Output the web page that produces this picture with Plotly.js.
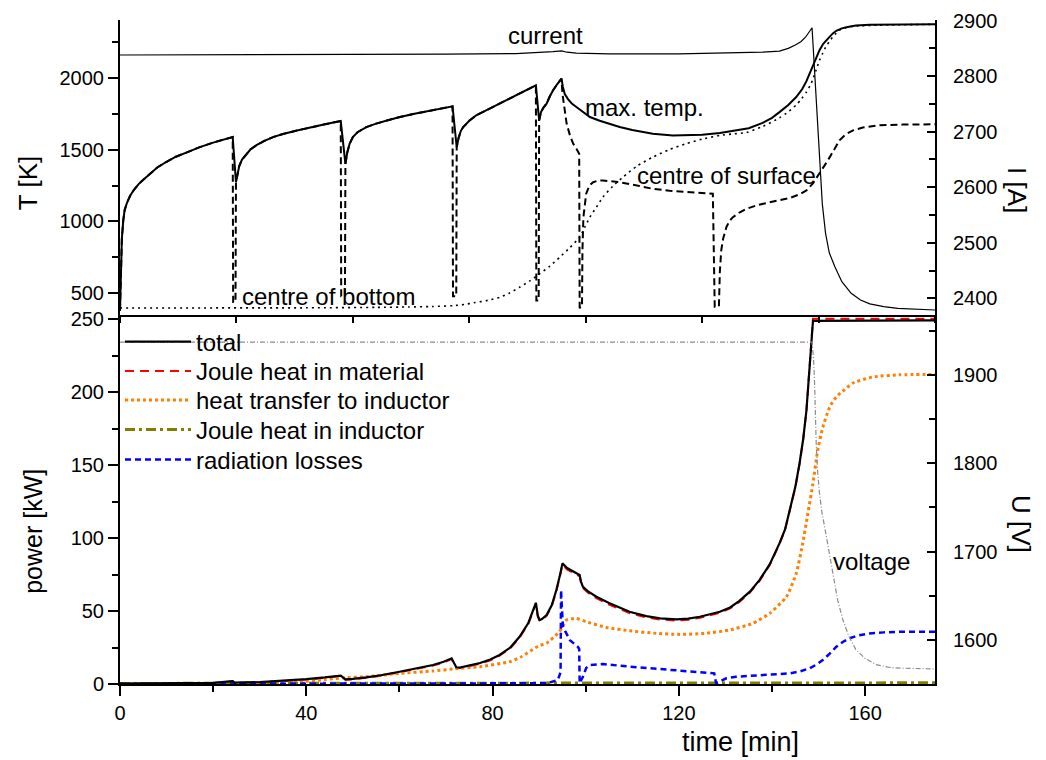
<!DOCTYPE html>
<html>
<head>
<meta charset="utf-8">
<script src="https://cdn.plot.ly/plotly-3.0.1.min.js"></script>
<style>
  html, body { margin: 0; padding: 0; background: #fff; }
  #chart { width: 1046px; height: 760px; }
</style>
</head>
<body>
<div id="chart"></div>
<script>
// ---- upper panel: temperatures [K] and coil current [A] versus time [min] ----
const tMax = [0, 0.2, 0.4, 0.7, 1.0, 1.5, 2.2, 3, 4, 5, 6.5, 8, 10, 12, 14.5, 17, 20, 22, 24.2,
  24.9, 25.2, 25.6, 26.2, 27, 28, 29.3, 31, 33, 35, 38, 41, 44, 47.4,
  48.4, 48.8, 49.3, 50, 51, 52.9, 55, 57.5, 60.1, 63.5, 67.2, 71.4,
  72.3, 72.7, 73.2, 73.7, 75, 76.5, 78.5, 81.5, 83.5, 85.8, 87.5, 89.3,
  90.0, 90.4, 90.9, 91.6, 92.3, 93, 93.9, 94.8,
  95.1, 95.5, 96.2, 97, 98, 99.5, 100.9, 103, 105, 107.3, 110, 114.4, 118.7, 122, 125, 128.8, 132, 135, 138, 140, 141.6,
  143.5, 145.2, 146.5, 147.4, 148.2, 148.8, 149.5, 150.2, 151, 152, 153, 153.8, 155, 156, 158, 161, 165, 175];
const TMax = [380, 600, 880, 1007, 1080, 1130, 1180, 1220, 1260, 1290, 1335, 1375, 1415, 1450, 1482, 1515, 1548, 1567, 1587,
  1273, 1330, 1385, 1430, 1465, 1500, 1530, 1560, 1588, 1608, 1632, 1655, 1675, 1698,
  1401, 1480, 1540, 1587, 1620, 1656, 1680, 1703, 1726, 1750, 1772, 1800,
  1517, 1580, 1630, 1656, 1700, 1738, 1770, 1819, 1850, 1889, 1915, 1946,
  1703, 1760, 1790, 1819, 1870, 1912, 1955, 1993,
  1935, 1885, 1850, 1820, 1795, 1760, 1726, 1700, 1680, 1656, 1635, 1610, 1598, 1598, 1603, 1615, 1630, 1648, 1685, 1720, 1760,
  1810, 1865, 1920, 1975, 2040, 2090, 2145, 2190, 2235, 2270, 2305, 2325, 2342, 2350, 2362, 2367, 2369, 2371];

const tSurf = [0, 0.2, 0.4, 0.7, 1.0, 1.5, 2.2, 3, 4, 5, 6.5, 8, 10, 12, 14.5, 17, 20, 22, 24.2, 24.3, 24.8,
  24.9, 25.2, 25.6, 26.2, 27, 28, 29.3, 31, 33, 35, 38, 41, 44, 47.4, 47.5, 48.3,
  48.4, 48.8, 49.3, 50, 51, 52.9, 55, 57.5, 60.1, 63.5, 67.2, 71.4, 71.5, 72.2,
  72.3, 72.7, 73.2, 73.7, 75, 76.5, 78.5, 81.5, 83.5, 85.8, 87.5, 89.3, 89.4, 89.9,
  90.0, 90.4, 90.9, 91.6, 92.3, 93, 93.9, 94.8,
  95.0, 95.5, 95.9, 96.6, 97.3, 98.0, 98.6, 98.7, 99.2,
  99.3, 99.5, 100.1, 100.8, 101.6, 102.5, 103.7, 105.5, 107.3, 111, 114.4, 118, 121.6, 124.5, 127.3, 127.7, 128.6,
  128.8, 129.1, 129.5, 130.2, 130.9, 131.6, 133, 134.5, 137, 139.5, 141.6, 144, 146, 147.4, 148.8, 150.2, 151.3,
  152.4, 153.5, 154.5, 155.8, 157.4, 159.5, 163.1, 168, 175];
const TSurf = [380, 600, 880, 1007, 1080, 1130, 1180, 1220, 1260, 1290, 1335, 1375, 1415, 1450, 1482, 1515, 1548, 1567, 1587, 440, 440,
  1273, 1330, 1385, 1430, 1465, 1500, 1530, 1560, 1588, 1608, 1632, 1655, 1675, 1698, 480, 480,
  1401, 1480, 1540, 1587, 1620, 1656, 1680, 1703, 1726, 1750, 1772, 1800, 480, 480,
  1517, 1580, 1630, 1656, 1700, 1738, 1770, 1819, 1850, 1889, 1915, 1946, 450, 450,
  1703, 1760, 1790, 1819, 1870, 1912, 1955, 1993,
  1889, 1760, 1680, 1600, 1541, 1505, 1471, 403, 403,
  800, 1030, 1193, 1250, 1273, 1283, 1285, 1281, 1273, 1250, 1227, 1213, 1204, 1198, 1193, 408, 408,
  650, 800, 880, 960, 1005, 1030, 1062, 1088, 1115, 1133, 1146, 1165, 1190, 1216, 1265, 1332, 1390,
  1447, 1510, 1564, 1605, 1633, 1653, 1668, 1673, 1675];

const tBot = [0, 40, 55, 62, 67, 71.5, 74, 76, 79, 81.5, 83.5, 85.8, 88, 90.1, 92.3, 94.4, 96.5, 98.7, 99.8, 100.9, 102.3, 103.7,
  105.8, 108, 111, 114.4, 118, 121.6, 125, 128.8, 131.5, 134.5, 138, 141.6, 143.5, 145.2, 146.4, 147.4, 148.2, 148.8, 149.5,
  150.2, 150.9, 151.5, 152.3, 153, 153.8, 154.5, 155.7, 157, 159, 163, 175];
const TBot = [399, 400, 403, 406, 409, 415, 424, 435, 452, 473, 500, 543, 587, 636, 690, 751, 815, 891, 960, 1030, 1100, 1169,
  1245, 1308, 1385, 1447, 1500, 1541, 1572, 1598, 1608, 1618, 1660, 1720, 1762, 1810, 1855, 1900, 1945, 1990, 2055,
  2120, 2170, 2210, 2250, 2280, 2308, 2329, 2345, 2355, 2360, 2364, 2370];

const tCur = [0, 40, 70, 85, 90, 93, 94.8, 96, 98, 105, 120, 132, 138, 141.6, 143.5, 145, 146.2, 147.2, 148.1, 148.6,
  149.0, 149.5, 149.9, 150.2, 150.8, 151.5, 152.3, 153.5, 155, 157, 159, 161, 164, 167, 175];
const ICur = [2838, 2838.5, 2839.5, 2840.5, 2842, 2844, 2845.5, 2843, 2841.5, 2840, 2840, 2841.5, 2843, 2845, 2850, 2856, 2862, 2870, 2880, 2887,
  2830, 2757, 2690, 2637, 2570, 2517, 2482, 2457, 2430, 2409, 2397, 2390, 2385, 2382, 2379];

// ---- lower panel: power balance [kW] and voltage [V] ----
const tTot = [0, 10, 20, 24.2, 24.6, 30, 35, 40, 44, 47.4, 48.4, 50, 52.9, 56, 60, 64, 67.2, 69.5, 71.2, 72.2, 73, 74.4, 77.3,
  79.5, 81.5, 83.8, 85.8, 87.7, 89.3, 89.7, 90.1, 90.6, 91.6, 92.7, 93.7, 94.5, 95, 96, 97.5, 98.7, 99.0, 99.4, 100.5, 102.3,
  105, 109.4, 113, 116, 119.5, 122, 124.5, 128.8, 131, 133, 135.3, 137.3, 139.5, 141.6, 142.8, 143.8, 145, 145.9, 146.7,
  147.4, 147.9, 148.4, 148.8, 175];
const PTot = [0.3, 0.5, 0.8, 2.0, 0.9, 1.3, 2.1, 3.3, 4.5, 5.8, 3.2, 3.5, 4.6, 6.0, 8.4, 10.8, 13.0, 15.2, 17.6, 11.5, 11.3, 12.3, 14.4,
  16.8, 19.9, 25.0, 32.4, 42.0, 55.7, 47.0, 43.8, 44.5, 47.3, 54.0, 64.4, 75.0, 82.7, 79.5, 77.0, 74.7, 70.0, 66.6, 63.5, 59.8,
  55.5, 49.5, 46.5, 45.0, 44.3, 44.8, 46.1, 49.5, 52.5, 57.0, 63.5, 71.2, 82.0, 96.4, 106, 119, 135, 151, 168,
  187.7, 210, 233, 249, 249.3];
const PJouleMat = [0.2, 0.4, 0.7, 1.8, 0.7, 1.1, 1.9, 3.0, 4.2, 5.5, 2.9, 3.2, 4.3, 5.6, 8.0, 10.4, 12.6, 14.8, 17.1, 11.1, 10.9, 11.9, 13.9,
  16.3, 19.4, 24.4, 31.8, 41.4, 55.0, 46.4, 43.2, 43.9, 46.7, 53.3, 63.7, 74.2, 81.8, 78.6, 76.1, 73.8, 69.2, 65.8, 62.6, 58.8,
  54.5, 48.6, 45.6, 44.2, 43.5, 44.0, 45.4, 48.8, 51.8, 56.3, 62.9, 70.6, 81.5, 95.9, 105.6, 118.6, 134.6, 150.6, 167.7,
  187.4, 210, 233.5, 250.5, 250.5];

const tHt = [0, 30, 35, 38.6, 44, 47.9, 52.9, 60, 67.2, 71.5, 77.3, 83.7, 86.2, 89.8, 91.6, 94, 95, 95.8, 97.9, 100.1, 104.4, 109.4, 115.2,
  120.2, 125.5, 130.9, 135.9, 139.5, 143.1, 145.2, 146.6, 147.7, 148.8, 149.8, 150.9, 152.4, 153.8, 155.6, 157.4, 161.6, 167.4, 175];
const PHt = [0, 0.2, 0.8, 1.6, 3.0, 4.3, 5.0, 7.3, 8.9, 10.3, 11.9, 15.3, 18.7, 26.0, 27.9, 34.7, 38.8, 43.8, 45.0, 42.7, 38.8, 36.5, 34.7,
  34.0, 34.7, 37.0, 41.6, 48.4, 59.8, 75.8, 96.4, 117, 137.5, 160, 176, 190, 196.8, 201.9, 206.4, 210.5, 212.0, 212.3];

const tInd = [0, 45, 90, 120, 148, 175];
const PInd = [0.4, 0.4, 0.5, 0.6, 0.8, 0.8];

const tRad = [0, 80, 91.6, 94, 94.6, 94.7, 95.1, 96.6, 98.3, 98.6, 98.7, 99.4, 100.1, 100.9, 103.7, 109.4, 116.6, 126.6, 127.6, 128.0,
  130.2, 132.3, 138.8, 143.8, 146, 148.1, 149.5, 150.9, 152.4, 153.8, 155.2, 156.6, 158.5, 160.9, 164, 167.4, 175];
const PRad = [0, 0.3, 0.5, 2.7, 8.0, 64.4, 39.3, 30.1, 25.5, 24.0, 0.5, 5.0, 11.0, 13.0, 13.7, 11.9, 10.0, 7.7, 7.3, 0.5,
  3.9, 5.0, 6.2, 7.3, 8.6, 10.8, 13.2, 16.4, 20.8, 25.5, 28.8, 31.3, 33.3, 34.7, 35.4, 35.8, 35.8];

const tVolt = [0, 148.6, 148.9, 149.1, 149.5, 149.8, 150.2, 150.7, 151.3, 152.2, 153.1, 154.1, 155.2, 156.5, 158, 160, 162.4, 165, 167.4, 175];
const UVolt = [1937.4, 1937.4, 1920, 1898, 1822, 1790, 1766, 1745, 1728, 1700, 1672, 1645, 1623, 1604, 1589, 1579, 1572, 1569, 1568, 1567];

const FONT = 'Liberation Sans, Arial, sans-serif';

const traces = [
  // upper panel
  {x: tBot, y: TBot, xaxis: 'x2', yaxis: 'y3', mode: 'lines', showlegend: false,
   line: {color: '#000', width: 1.6, dash: '2px,4px', shape: 'spline', smoothing: 0.6}},
  {x: tSurf, y: TSurf, xaxis: 'x2', yaxis: 'y3', mode: 'lines', showlegend: false,
   line: {color: '#000', width: 2, dash: '7px,4px'}},
  {x: tMax, y: TMax, xaxis: 'x2', yaxis: 'y3', mode: 'lines', showlegend: false,
   line: {color: '#000', width: 2}},
  {x: tCur, y: ICur, xaxis: 'x2', yaxis: 'y4', mode: 'lines', showlegend: false,
   line: {color: '#000', width: 1.2}},
  // lower panel (one legend box per entry so the rows can sit at fixed heights)
  {x: tTot, y: PJouleMat, xaxis: 'x', yaxis: 'y', mode: 'lines', name: 'Joule heat in material', legend: 'legend2',
   line: {color: '#ff0000', width: 2, dash: '9px,6px'}},
  {x: tHt, y: PHt, xaxis: 'x', yaxis: 'y', mode: 'lines', name: 'heat transfer to inductor', legend: 'legend3',
   line: {color: '#ff7f00', width: 3, dash: 'dot', shape: 'spline', smoothing: 0.5}},
  {x: tInd, y: PInd, xaxis: 'x', yaxis: 'y', mode: 'lines', name: 'Joule heat in inductor', legend: 'legend4',
   line: {color: '#808000', width: 3, dash: '10px,4px,3px,4px'}},
  {x: tRad, y: PRad, xaxis: 'x', yaxis: 'y', mode: 'lines', name: 'radiation losses', legend: 'legend5',
   line: {color: '#0000ff', width: 2.5, dash: '6px,4px'}},
  {x: tTot, y: PTot, xaxis: 'x', yaxis: 'y', mode: 'lines', name: 'total', legend: 'legend',
   line: {color: '#000', width: 2.2}},
  {x: tVolt, y: UVolt, xaxis: 'x', yaxis: 'y2', mode: 'lines', showlegend: false,
   line: {color: '#8c8c8c', width: 1.2, dash: '5px,2px,1px,2px'}}
];

const SPLIT = 0.5557;
const axisBase = {
  showgrid: false, zeroline: false, showline: true, linecolor: '#000', linewidth: 2,
  tickcolor: '#000', tickwidth: 2, tickfont: {family: FONT, size: 20, color: '#000'}
};

// legend rows: centre heights in pixels from the top of the figure
const legendRows = [343, 372.5, 401.5, 431, 461];
function legendBox(rowY) {
  return {x: 0, xanchor: 'left', y: (684 - (rowY - 23.5)) / 664, yanchor: 'top',
          bgcolor: 'rgba(0,0,0,0)', font: {family: FONT, size: 24, color: '#000'}, itemwidth: 66};
}

const layout = {
  width: 1046, height: 760,
  margin: {l: 120, r: 111, t: 20, b: 76},
  paper_bgcolor: '#fff', plot_bgcolor: 'rgba(0,0,0,0)',
  font: {family: FONT, color: '#000'},
  showlegend: true,
  legend: legendBox(legendRows[0]),
  legend2: legendBox(legendRows[1]),
  legend3: legendBox(legendRows[2]),
  legend4: legendBox(legendRows[3]),
  legend5: legendBox(legendRows[4]),
  xaxis: Object.assign({}, axisBase, {
    domain: [0, 1], anchor: 'y', range: [0, 175], tick0: 0, dtick: 40,
    ticks: 'outside', ticklen: 10,
    minor: {dtick: 20, ticks: 'outside', ticklen: 6, tickcolor: '#000', tickwidth: 2}
  }),
  yaxis: Object.assign({}, axisBase, {
    domain: [0, SPLIT], anchor: 'x', range: [0, 253], tick0: 0, dtick: 50,
    ticks: 'outside', ticklen: 10,
    minor: {dtick: 25, ticks: 'outside', ticklen: 6, tickcolor: '#000', tickwidth: 2}
  }),
  yaxis2: Object.assign({}, axisBase, {
    overlaying: 'y', side: 'right', anchor: 'x', range: [1550, 1968], tick0: 0, dtick: 100,
    ticks: 'inside', ticklen: 8, ticklabelstandoff: 12,
    minor: {dtick: 50, ticks: 'inside', ticklen: 6, tickcolor: '#000', tickwidth: 2}
  }),
  xaxis2: Object.assign({}, axisBase, {
    domain: [0, 1], anchor: 'y3', range: [0, 175], tick0: 0, dtick: 25,
    ticks: 'outside', ticklen: 6, showticklabels: false
  }),
  yaxis3: Object.assign({}, axisBase, {
    domain: [SPLIT, 1], anchor: 'x2', range: [350, 2400], tick0: 0, dtick: 500,
    ticks: 'outside', ticklen: 10,
    minor: {dtick: 250, ticks: 'outside', ticklen: 6, tickcolor: '#000', tickwidth: 2}
  }),
  yaxis4: Object.assign({}, axisBase, {
    overlaying: 'y3', side: 'right', anchor: 'x2', range: [2370, 2901], tick0: 0, dtick: 100,
    ticks: 'inside', ticklen: 8, ticklabelstandoff: 12,
    minor: {dtick: 50, ticks: 'inside', ticklen: 6, tickcolor: '#000', tickwidth: 2}
  }),
  annotations: [
    // axis titles
    {text: 'T [K]', xref: 'paper', yref: 'paper', x: -0.112, xanchor: 'center', y: (684 - 183.5) / 664,
     yanchor: 'middle', textangle: -90, showarrow: false, font: {size: 26}},
    {text: 'power [kW]', xref: 'paper', yref: 'paper', x: -0.107, xanchor: 'center', y: (684 - 531) / 664,
     yanchor: 'middle', textangle: -90, showarrow: false, font: {size: 25}},
    {text: 'I [A]', xref: 'paper', yref: 'paper', x: (1017 - 120) / 815, xanchor: 'center', y: (684 - 190) / 664,
     yanchor: 'middle', textangle: 90, showarrow: false, font: {size: 26}},
    {text: 'U [V]', xref: 'paper', yref: 'paper', x: (1021 - 120) / 815, xanchor: 'center', y: (684 - 524) / 664,
     yanchor: 'middle', textangle: 90, showarrow: false, font: {size: 26}},
    {text: 'time [min]', xref: 'paper', yref: 'paper', x: (740 - 120) / 815, xanchor: 'center', y: (684 - 742) / 664,
     yanchor: 'middle', showarrow: false, font: {size: 27}},
    // curve labels
    {text: 'current', xref: 'x2', yref: 'y4', x: 82.8, y: 2873.7, xanchor: 'left', yanchor: 'middle',
     showarrow: false, font: {size: 24}},
    {text: 'max. temp.', xref: 'x2', yref: 'y3', x: 99.4, y: 1793, xanchor: 'left', yanchor: 'middle',
     showarrow: false, font: {size: 24}},
    {text: 'centre of surface', xref: 'x2', yref: 'y3', x: 110.5, y: 1322, xanchor: 'left', yanchor: 'middle',
     showarrow: false, font: {size: 24}},
    {text: 'centre of bottom', xref: 'x2', yref: 'y3', x: 25.75, y: 478, xanchor: 'left', yanchor: 'middle',
     showarrow: false, font: {size: 24}},
    {text: 'voltage', xref: 'x', yref: 'y', x: 152.7, y: 84, xanchor: 'left', yanchor: 'middle',
     showarrow: false, font: {size: 24}}
  ]
};

Plotly.newPlot('chart', traces, layout, {staticPlot: true, displayModeBar: false});
</script>
</body>
</html>
